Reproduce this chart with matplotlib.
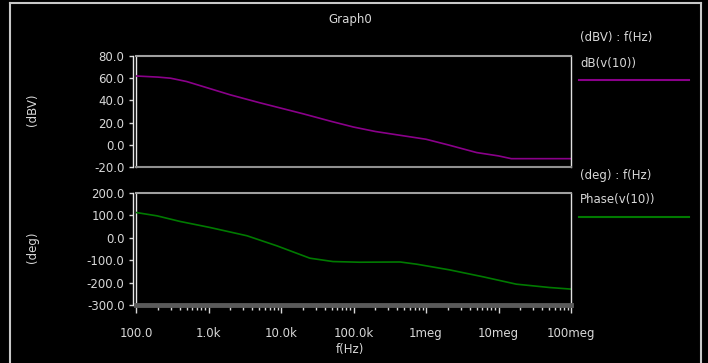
import matplotlib.pyplot as plt
from matplotlib.lines import Line2D
from matplotlib.ticker import FixedLocator, LogLocator, NullFormatter

# magnitude trace dB(v(10))
freq_db = [100, 200, 300, 500, 1e3, 2e3, 5e3, 1e4, 2e4, 5e4, 1e5, 2e5, 5e5,
           1e6, 2e6, 5e6, 1e7, 1.5e7, 1e8]
db_vals = [62, 61, 60, 57, 51, 45, 38, 33, 28, 21, 16, 12, 8,
           5, 0, -7, -10, -12.5, -12.5]

# phase trace Phase(v(10))
freq_ph = [100, 195, 405, 1.05e3, 3.4e3, 8.8e3, 2.5e4, 5.2e4, 1.2e5, 4.4e5,
           7.5e5, 2.1e6, 6.1e6, 1.76e7, 5.1e7, 1e8]
ph_vals = [113, 98, 73, 46, 9, -36, -91, -106, -109, -108,
           -118, -143, -174, -207, -222, -229]

x_ticks = [1e2, 1e3, 1e4, 1e5, 1e6, 1e7, 1e8]
x_labels = ["100.0", "1.0k", "10.0k", "100.0k", "1meg", "10meg", "100meg"]
db_ticks = [80, 60, 40, 20, 0, -20]
ph_ticks = [200, 100, 0, -100, -200, -300]

FG = "#d8d8d8"
PURPLE = "#8a008a"
GREEN = "#007a00"
FS = 8.5

fig = plt.figure(figsize=(7.08, 3.63), dpi=100, facecolor="black")

# outer window frame: left, top and right edges only
frame = dict(transform=fig.transFigure, color="#c8c8c8", linewidth=1.5)
fig.add_artist(Line2D([10 / 708, 10 / 708], [0, 1 - 3 / 363], **frame))
fig.add_artist(Line2D([10 / 708, 701 / 708], [1 - 3 / 363, 1 - 3 / 363], **frame))
fig.add_artist(Line2D([701 / 708, 701 / 708], [0, 1 - 3 / 363], **frame))

ax1 = fig.add_axes([136 / 708, 1 - 167 / 363, 435 / 708, 111 / 363])
ax2 = fig.add_axes([136 / 708, 1 - 305 / 363, 435 / 708, 112 / 363])


def style(ax, ticks, bottom_color, bottom_lw):
    ax.set_facecolor("black")
    ax.set_xscale("log")
    ax.set_xlim(1e2, 1e8)
    ax.set_ylim(ticks[-1], ticks[0])
    ax.yaxis.set_major_locator(FixedLocator(ticks))
    ax.set_yticklabels([f"{t:.1f}" for t in ticks])
    ax.spines["top"].set_color("#a0a0a0")
    ax.spines["top"].set_linewidth(1.5)
    ax.spines["right"].set_color("#e0e0e0")
    ax.spines["right"].set_linewidth(1)
    ax.spines["bottom"].set_color(bottom_color)
    ax.spines["bottom"].set_linewidth(bottom_lw)
    ax.spines["left"].set_color("#e8e8e8")
    ax.spines["left"].set_linewidth(1)
    ax.spines["left"].set_position(("outward", 2.2))
    ax.add_line(Line2D([0, 0], [0, 1], transform=ax.transAxes,
                       color="#e8e8e8", linewidth=1, clip_on=False))
    ax.tick_params(axis="y", colors=FG, labelsize=FS, length=3, width=1,
                   direction="out", pad=3)


style(ax1, db_ticks, "#909090", 1.5)
style(ax2, ph_ticks, "#5a5a5a", 3.5)

ax1.tick_params(axis="x", which="both", bottom=False, labelbottom=False)
ax2.xaxis.set_major_locator(FixedLocator(x_ticks))
ax2.set_xticklabels(x_labels)
ax2.xaxis.set_minor_locator(LogLocator(base=10, subs=range(2, 10), numticks=20))
ax2.xaxis.set_minor_formatter(NullFormatter())
ax2.tick_params(axis="x", which="major", colors=FG, labelsize=FS,
                length=6, width=1, direction="out", pad=10)
ax2.tick_params(axis="x", which="minor", colors=FG, length=3.5, width=1,
                direction="out")

ax1.plot(freq_db, db_vals, color=PURPLE, linewidth=1.2)
ax2.plot(freq_ph, ph_vals, color=GREEN, linewidth=1.2)

fig.text(350 / 708, 1 - 20 / 363, "Graph0", color=FG, fontsize=FS,
         ha="center", va="center")
fig.text(33 / 708, 1 - 110 / 363, "(dBV)", color=FG, fontsize=FS,
         rotation=90, ha="center", va="center")
fig.text(33 / 708, 1 - 247 / 363, "(deg)", color=FG, fontsize=FS,
         rotation=90, ha="center", va="center")
fig.text(350 / 708, 1 - 350 / 363, "f(Hz)", color=FG, fontsize=FS,
         ha="center", va="center")

# legend block on the right
fig.text(580 / 708, 1 - 38 / 363, "(dBV) : f(Hz)", color=FG, fontsize=FS,
         ha="left", va="center")
fig.text(580 / 708, 1 - 64 / 363, "dB(v(10))", color=FG, fontsize=FS,
         ha="left", va="center")
fig.add_artist(Line2D([579 / 708, 689 / 708], [1 - 80 / 363, 1 - 80 / 363],
                      transform=fig.transFigure, color=PURPLE, linewidth=1.5))
fig.text(580 / 708, 1 - 175 / 363, "(deg) : f(Hz)", color=FG, fontsize=FS,
         ha="left", va="center")
fig.text(580 / 708, 1 - 200 / 363, "Phase(v(10))", color=FG, fontsize=FS,
         ha="left", va="center")
fig.add_artist(Line2D([579 / 708, 689 / 708], [1 - 217 / 363, 1 - 217 / 363],
                      transform=fig.transFigure, color=GREEN, linewidth=1.5))

fig.savefig("out.png", dpi=100, facecolor="black")
